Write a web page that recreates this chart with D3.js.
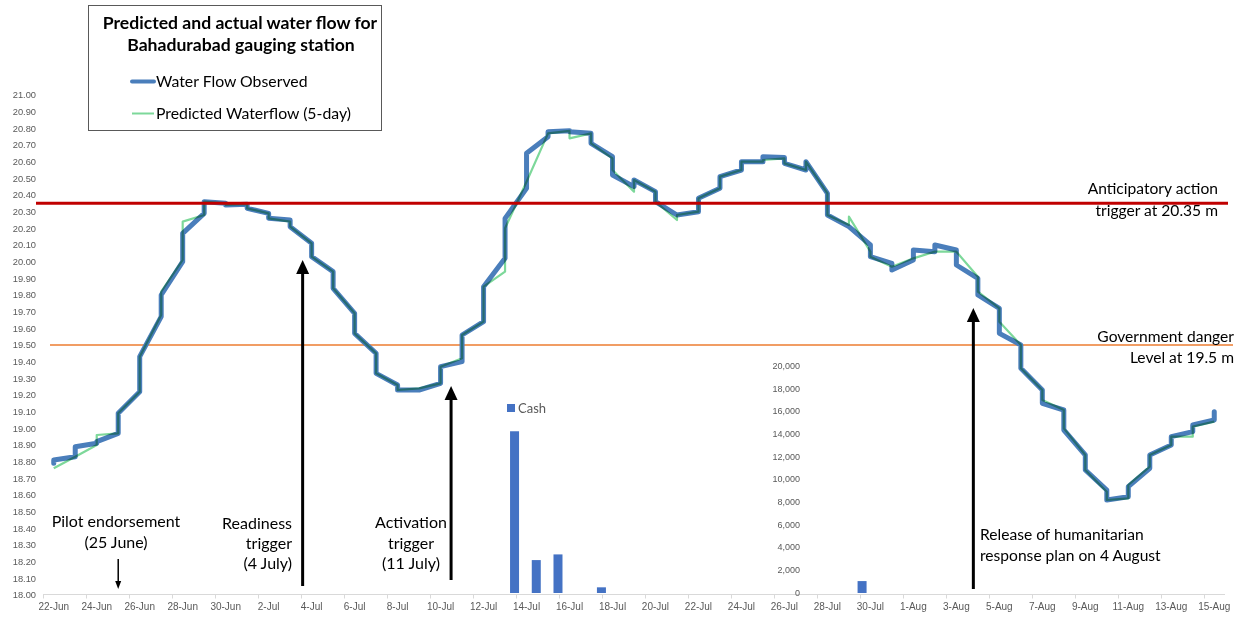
<!DOCTYPE html>
<html>
<head>
<meta charset="utf-8">
<script src="https://cdn.jsdelivr.net/npm/d3@7"></script>
<style>
  html, body { margin: 0; padding: 0; background: #ffffff; }
  svg { display: block; }
  .tick-label { font-family: "Liberation Sans", Arial, sans-serif; fill: #595959; }
  .note { font-family: Lato, "Open Sans", sans-serif; fill: #000; }
</style>
</head>
<body>
<svg id="chart" width="1247" height="617"></svg>
<script>
// ---- data ---------------------------------------------------------------
// Daily water level (m) at Bahadurabad, first and last reading of each day,
// 22 June to 15 August.
const startDay = "2020-06-22";
const endDay = "2020-08-15";

const observedFirst = [
  18.79, 18.83, 18.91, 18.97, 19.22, 19.67, 20.00, 20.29, 20.35, 20.345,
  20.29, 20.25, 20.11, 19.94, 19.69, 19.45, 19.26, 19.23, 19.27, 19.40,
  19.64, 20.02, 20.44, 20.75, 20.785, 20.77, 20.63, 20.45, 20.42, 20.28,
  20.30, 20.44, 20.55, 20.60, 20.625, 20.55, 20.41, 20.21, 20.10, 19.99,
  20.01, 20.06, 20.07, 19.90, 19.72, 19.50, 19.23, 19.11, 18.84, 18.63,
  18.59, 18.76, 18.90, 18.98, 19.05
];
const observedLast = [
  18.81, 18.89, 18.92, 19.09, 19.43, 19.80, 20.17, 20.36, 20.34, 20.32,
  20.26, 20.21, 20.03, 19.84, 19.57, 19.33, 19.23, 19.23, 19.37, 19.56,
  19.85, 20.26, 20.65, 20.78, 20.78, 20.71, 20.52, 20.49, 20.36, 20.28,
  20.38, 20.51, 20.60, 20.63, 20.59, 20.60, 20.28, 20.21, 20.03, 19.95,
  20.07, 20.10, 19.98, 19.80, 19.57, 19.36, 19.15, 18.99, 18.75, 18.57,
  18.65, 18.84, 18.95, 19.02, 19.10
];
const predictedFirst = [
  18.76, 18.83, 18.90, 18.97, 19.22, 19.68, 20.01, 20.28, 20.35, 20.345,
  20.29, 20.24, 20.11, 19.94, 19.69, 19.45, 19.26, 19.24, 19.27, 19.42,
  19.64, 19.94, 20.48, 20.77, 20.785, 20.77, 20.62, 20.42, 20.42, 20.25,
  20.30, 20.44, 20.55, 20.60, 20.62, 20.55, 20.41, 20.22, 20.06, 19.97,
  20.02, 20.06, 20.06, 19.91, 19.72, 19.50, 19.23, 19.11, 18.84, 18.62,
  18.58, 18.77, 18.90, 18.95, 19.04
];
const predictedLast = [
  18.76, 18.83, 18.96, 19.09, 19.43, 19.82, 20.24, 20.36, 20.34, 20.32,
  20.26, 20.21, 20.03, 19.84, 19.57, 19.33, 19.23, 19.24, 19.37, 19.56,
  19.85, 20.20, 20.48, 20.77, 20.74, 20.71, 20.55, 20.49, 20.36, 20.28,
  20.38, 20.51, 20.60, 20.61, 20.59, 20.60, 20.28, 20.27, 20.03, 19.97,
  20.02, 20.06, 20.06, 19.82, 19.64, 19.36, 19.17, 19.00, 18.75, 18.57,
  18.66, 18.84, 18.95, 19.01, 19.04
];

// Cash disbursed (secondary panel)
const cashDates = ["2020-07-14", "2020-07-15", "2020-07-16", "2020-07-18", "2020-07-30"];
const cashValues = [14250, 2900, 3400, 500, 1050];

// Reference levels (m)
const triggerLevel = 20.35;
const dangerLevel = 19.5;

// Axis ticks
const levelTicks = d3.range(0, 31).map(i => +(18 + i * 0.1).toFixed(2));
const cashTicks = d3.range(0, 20001, 2000);

// ---- scales -------------------------------------------------------------
const parse = d3.utcParse("%Y-%m-%d");
const days = d3.utcDay.range(parse(startDay), d3.utcDay.offset(parse(endDay), 1));
const halfDay = 12 * 3600 * 1000;

const x = d3.scaleUtc()
  .domain([new Date(+days[0] - halfDay), new Date(+days[days.length - 1] + halfDay)])
  .range([43, 1225]);
const y = d3.scaleLinear().domain([18, 21]).range([595, 95]);

// The cash panel is an overlaid chart with its own axes
const xCash = d3.scaleUtc().domain([days[0], days[days.length - 1]]).range([36.7, 1209.6]);
const yCash = d3.scaleLinear().domain([0, 20000]).range([593, 366]);

const svg = d3.select("#chart");
svg.append("rect").attr("width", 1247).attr("height", 617).attr("fill", "#fff");

// ---- axes ---------------------------------------------------------------
const fmtLevel = d3.format(".2f");
const yAxis = d3.axisLeft(y).tickValues(levelTicks).tickFormat(fmtLevel).tickSize(0).tickPadding(0);
const gy = svg.append("g").attr("transform", "translate(36,0)").call(yAxis);
gy.select(".domain").remove();
gy.selectAll("text").attr("class", "tick-label").style("font-size", "9.3px").attr("dy", "0.32em");

// bottom axis: line, tick marks every two days, labels on even days
const axisY = 594.5;
svg.append("line").attr("x1", 43).attr("x2", 1225).attr("y1", axisY).attr("y2", axisY)
  .attr("stroke", "#d9d9d9").attr("stroke-width", 1);
const tickDates = d3.range(0, days.length + 1, 2).map(i => new Date(+days[0] - halfDay + i * 864e5));
svg.append("g").selectAll("line").data(tickDates).join("line")
  .attr("x1", d => Math.round(x(d)) + 0.5).attr("x2", d => Math.round(x(d)) + 0.5)
  .attr("y1", axisY).attr("y2", axisY + 4)
  .attr("stroke", "#d9d9d9");
const fmtDay = d3.utcFormat("%-d-%b");
svg.append("g").selectAll("text").data(days.filter((d, i) => i % 2 === 0)).join("text")
  .attr("class", "tick-label")
  .attr("x", d => x(d)).attr("y", 610)
  .attr("text-anchor", "middle")
  .style("font-size", "10px")
  .text(d => fmtDay(d));

// cash axis labels
svg.append("g").selectAll("text").data(cashTicks).join("text")
  .attr("class", "tick-label")
  .attr("x", 800).attr("y", d => yCash(d)).attr("dy", "0.32em")
  .attr("text-anchor", "end")
  .style("font-size", "9px")
  .text(d => d3.format(",")(d));

// ---- cash bars ----------------------------------------------------------
const barW = 9;
svg.append("g").selectAll("rect").data(cashDates.map((d, i) => ({ date: parse(d), v: cashValues[i] })))
  .join("rect")
  .attr("x", d => xCash(d.date) - barW / 2)
  .attr("y", d => yCash(d.v))
  .attr("width", barW)
  .attr("height", d => yCash(0) - yCash(d.v))
  .attr("fill", "#4472c4");

// cash legend
svg.append("rect").attr("x", 507).attr("y", 404).attr("width", 8).attr("height", 8).attr("fill", "#4472c4");
svg.append("text").attr("class", "note").attr("x", 518).attr("y", 413)
  .style("font-size", "13px").style("fill", "#595959").text("Cash");

// ---- reference levels ---------------------------------------------------
svg.append("line").attr("x1", 50).attr("x2", 1233)
  .attr("y1", y(dangerLevel)).attr("y2", y(dangerLevel))
  .attr("stroke", "#ed7d31").attr("stroke-width", 1.5);

// ---- water level lines --------------------------------------------------
function steps(first, last) {
  const pts = [];
  days.forEach((d, i) => {
    pts.push([d, first[i]]);
    pts.push([d, last[i]]);
  });
  return pts;
}
const line = d3.line().x(d => x(d[0])).y(d => y(d[1]));

svg.append("path")
  .datum(steps(observedFirst, observedLast))
  .attr("d", line)
  .attr("fill", "none")
  .attr("stroke", "#4a7ebb")
  .attr("stroke-width", 5)
  .attr("stroke-linejoin", "round")
  .attr("stroke-linecap", "round");

svg.append("path")
  .datum(steps(predictedFirst, predictedLast))
  .attr("d", line)
  .attr("fill", "none")
  .attr("stroke", "#7dd89a")
  .attr("stroke-width", 2.2)
  .attr("stroke-linejoin", "round")
  .style("mix-blend-mode", "multiply");

svg.append("line").attr("x1", 36).attr("x2", 1228)
  .attr("y1", y(triggerLevel)).attr("y2", y(triggerLevel))
  .attr("stroke", "#c00000").attr("stroke-width", 3);

// ---- annotations --------------------------------------------------------
function addText(lines, xPos, anchor, size) {
  const t = svg.append("text").attr("class", "note").attr("text-anchor", anchor)
    .style("font-size", size + "px");
  lines.forEach(l => t.append("tspan").attr("x", xPos).attr("y", l[1]).text(l[0]));
}
addText([["Anticipatory action", 194], ["trigger at 20.35 m", 216]], 1218, "end", 15.6);
addText([["Government danger", 342], ["Level at 19.5 m", 363]], 1234, "end", 15.6);
addText([["Pilot endorsement", 527], ["(25 June)", 548]], 116, "middle", 16);
addText([["Readiness", 529], ["trigger", 549], ["(4 July)", 569]], 292, "end", 16);
addText([["Activation", 528], ["trigger", 549], ["(11 July)", 569]], 411, "middle", 16);
addText([["Release of humanitarian", 540], ["response plan on 4 August", 561]], 980, "start", 15.6);

function arrow(xPos, yTop, yBottom, lw, headW, headH) {
  svg.append("line").attr("x1", xPos).attr("x2", xPos)
    .attr("y1", yTop + headH - 1).attr("y2", yBottom)
    .attr("stroke", "#000").attr("stroke-width", lw);
  svg.append("path")
    .attr("d", `M${xPos},${yTop} L${xPos + headW / 2},${yTop + headH} L${xPos - headW / 2},${yTop + headH} Z`)
    .attr("fill", "#000");
}
function arrowDown(xPos, yTop, yBottom, lw, headW, headH) {
  svg.append("line").attr("x1", xPos).attr("x2", xPos)
    .attr("y1", yTop).attr("y2", yBottom - headH + 1)
    .attr("stroke", "#000").attr("stroke-width", lw);
  svg.append("path")
    .attr("d", `M${xPos},${yBottom} L${xPos + headW / 2},${yBottom - headH} L${xPos - headW / 2},${yBottom - headH} Z`)
    .attr("fill", "#000");
}
const dayX = s => x(parse(s));
arrow(dayX("2020-07-04") - 9, 260, 586, 3, 13, 14);
arrow(dayX("2020-07-11") - 11, 386, 580, 3, 13, 14);
arrow(dayX("2020-08-04") - 4.5, 308, 589, 3, 13, 14);
arrowDown(dayX("2020-06-25"), 559, 589, 1.5, 6, 8);

// ---- title & legend box -------------------------------------------------
svg.append("rect").attr("x", 88.5).attr("y", 5.5).attr("width", 293).attr("height", 125)
  .attr("fill", "#fff").attr("stroke", "#595959").attr("stroke-width", 1);
const title = svg.append("text").attr("class", "note").attr("text-anchor", "middle")
  .style("font-size", "17.6px").style("font-weight", "bold");
title.append("tspan").attr("x", 240).attr("y", 29).text("Predicted and actual water flow for");
title.append("tspan").attr("x", 241).attr("y", 51).text("Bahadurabad gauging station");

svg.append("line").attr("x1", 132).attr("x2", 154).attr("y1", 81.5).attr("y2", 81.5)
  .attr("stroke", "#4a7ebb").attr("stroke-width", 4).attr("stroke-linecap", "round");
svg.append("text").attr("class", "note").attr("x", 156).attr("y", 87)
  .style("font-size", "15.8px").text("Water Flow Observed");
svg.append("line").attr("x1", 132).attr("x2", 154).attr("y1", 113.5).attr("y2", 113.5)
  .attr("stroke", "#7dd89a").attr("stroke-width", 2);
svg.append("text").attr("class", "note").attr("x", 156).attr("y", 119)
  .style("font-size", "15.8px").text("Predicted Waterflow (5-day)");
</script>
</body>
</html>
